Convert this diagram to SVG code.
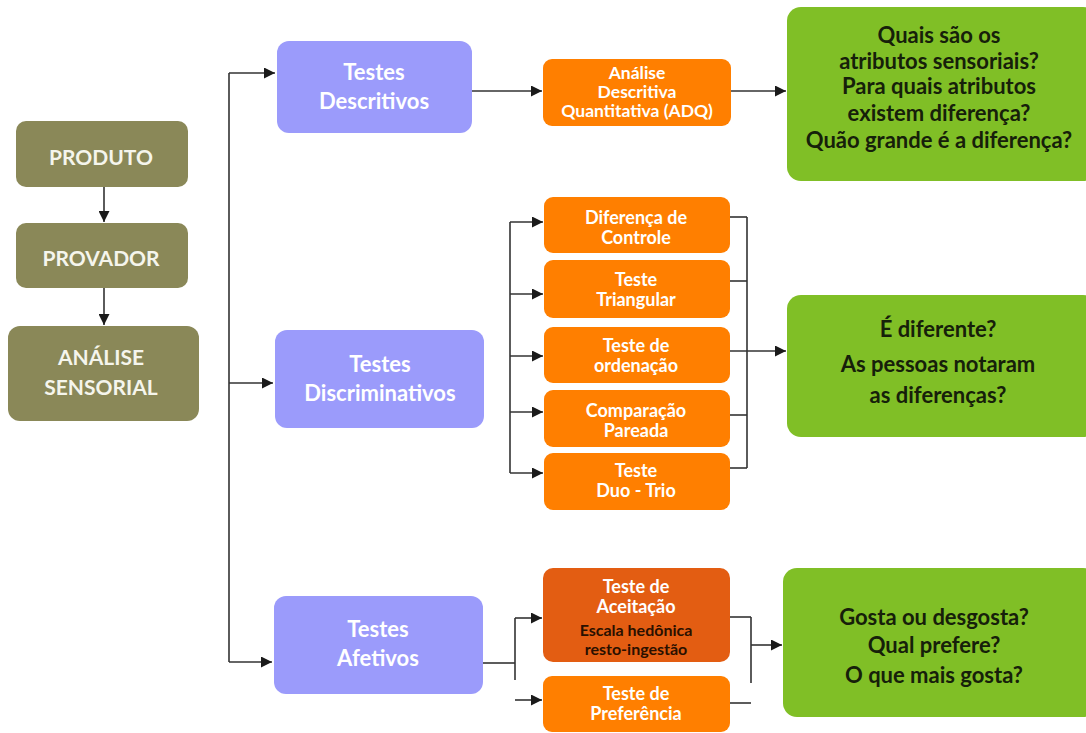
<svg xmlns="http://www.w3.org/2000/svg" width="1086" height="733" viewBox="0 0 1086 733">
<defs>
<marker id="ah" viewBox="0 0 10 10" refX="10" refY="5" markerWidth="11" markerHeight="11" markerUnits="userSpaceOnUse" orient="auto">
<path d="M0,0 L10,5 L0,10 z" fill="#1a1a1a"/>
</marker>
</defs>
<style>
text{font-family:Lato,"Open Sans","Liberation Sans",sans-serif;font-weight:bold;text-anchor:middle}
.olive{fill:#8a8858}
.olive-t{fill:#f5f5ec;font-size:21px}
.purple{fill:#9b9bfb}
.purple-t{fill:#ffffff;font-size:22px}
.orange{fill:#ff7f00}
.dorange{fill:#e35d12}
.orange-t{fill:#ffffff;font-size:18px}
.adq-t{fill:#ffffff;font-size:17.5px}
.sub-t{fill:#2a1000;font-size:16px}
.green{fill:#80bf26}
.green-t{fill:#16200a;font-size:22px}
.ln{fill:none;stroke:#333333;stroke-width:1.6}
.ar{fill:none;stroke:#333333;stroke-width:1.6;marker-end:url(#ah)}
</style>
<rect width="1086" height="733" fill="#ffffff"/>

<g id="produto"><rect class="olive" x="16" y="121" width="172" height="66" rx="10"/><text class="olive-t" x="101" y="164.5">PRODUTO</text></g>
<g id="provador"><rect class="olive" x="16" y="223" width="172" height="65" rx="10"/><text class="olive-t" x="101" y="265.5">PROVADOR</text></g>
<g id="analise"><rect class="olive" x="8" y="326" width="191" height="95" rx="12"/><text class="olive-t" x="101" y="364.5">ANÁLISE</text><text class="olive-t" x="101" y="394.5">SENSORIAL</text></g>

<g id="descritivos"><rect class="purple" x="277" y="41" width="195" height="92" rx="12"/><text class="purple-t" x="374" y="80">Testes</text><text class="purple-t" x="374" y="109">Descritivos</text></g>
<g id="discriminativos"><rect class="purple" x="275" y="330" width="209" height="98" rx="12"/><text class="purple-t" x="380" y="372">Testes</text><text class="purple-t" x="380" y="401">Discriminativos</text></g>
<g id="afetivos"><rect class="purple" x="274" y="596" width="209" height="98" rx="12"/><text class="purple-t" x="378" y="637">Testes</text><text class="purple-t" x="378" y="666">Afetivos</text></g>

<g id="adq"><rect class="orange" x="543" y="59" width="188" height="67" rx="9"/><text class="adq-t" x="637" y="79">Análise</text><text class="adq-t" x="637" y="98">Descritiva</text><text class="adq-t" x="637" y="117">Quantitativa (ADQ)</text></g>

<g id="dif-controle"><rect class="orange" x="544" y="197" width="186" height="56" rx="9"/><text class="orange-t" x="636" y="223.5">Diferença de</text><text class="orange-t" x="636" y="243.5">Controle</text></g>
<g id="triangular"><rect class="orange" x="544" y="260" width="186" height="58" rx="9"/><text class="orange-t" x="636" y="285.5">Teste</text><text class="orange-t" x="636" y="305.5">Triangular</text></g>
<g id="ordenacao"><rect class="orange" x="544" y="327" width="186" height="56" rx="9"/><text class="orange-t" x="636" y="351.5">Teste de</text><text class="orange-t" x="636" y="371.5">ordenação</text></g>
<g id="pareada"><rect class="orange" x="544" y="390" width="186" height="57" rx="9"/><text class="orange-t" x="636" y="417">Comparação</text><text class="orange-t" x="636" y="437">Pareada</text></g>
<g id="duotrio"><rect class="orange" x="544" y="453" width="186" height="57" rx="9"/><text class="orange-t" x="636" y="477">Teste</text><text class="orange-t" x="636" y="497">Duo - Trio</text></g>

<g id="aceitacao"><rect class="dorange" x="543" y="568" width="187" height="94" rx="10"/><text class="orange-t" x="636" y="593">Teste de</text><text class="orange-t" x="636" y="613">Aceitação</text><text class="sub-t" x="636" y="636">Escala hedônica</text><text class="sub-t" x="636" y="655">resto-ingestão</text></g>
<g id="preferencia"><rect class="orange" x="543" y="676" width="187" height="56" rx="9"/><text class="orange-t" x="636" y="700">Teste de</text><text class="orange-t" x="636" y="720">Preferência</text></g>

<g id="q-descritivos"><rect class="green" x="787" y="7" width="310" height="174" rx="14"/><text class="green-t" x="939" y="43">Quais são os</text><text class="green-t" x="939" y="69">atributos sensoriais?</text><text class="green-t" x="939" y="94">Para quais atributos</text><text class="green-t" x="939" y="121">existem diferença?</text><text class="green-t" x="939" y="148">Quão grande é a diferença?</text></g>
<g id="q-discriminativos"><rect class="green" x="787" y="295" width="310" height="142" rx="14"/><text class="green-t" x="938" y="337">É diferente?</text><text class="green-t" x="938" y="372">As pessoas notaram</text><text class="green-t" x="938" y="403">as diferenças?</text></g>
<g id="q-afetivos"><rect class="green" x="783" y="568" width="314" height="149" rx="14"/><text class="green-t" x="934" y="625">Gosta ou desgosta?</text><text class="green-t" x="934" y="653">Qual prefere?</text><text class="green-t" x="934" y="683">O que mais gosta?</text></g>

<g id="connectors">
<line class="ar" x1="104" y1="187" x2="104" y2="222"/>
<line class="ar" x1="104" y1="288" x2="104" y2="325"/>
<polyline class="ln" points="229,73 229,662"/>
<line class="ar" x1="229" y1="73" x2="275" y2="73"/>
<line class="ar" x1="229" y1="383" x2="273" y2="383"/>
<line class="ar" x1="229" y1="662" x2="272" y2="662"/>
<line class="ar" x1="472" y1="91" x2="542" y2="91"/>
<line class="ar" x1="731" y1="91" x2="786" y2="91"/>
<line class="ln" x1="510" y1="222" x2="510" y2="473"/>
<line class="ar" x1="510" y1="222" x2="543" y2="222"/>
<line class="ar" x1="510" y1="294" x2="543" y2="294"/>
<line class="ar" x1="510" y1="356" x2="543" y2="356"/>
<line class="ar" x1="510" y1="412" x2="543" y2="412"/>
<line class="ar" x1="510" y1="473" x2="543" y2="473"/>
<line class="ln" x1="747" y1="217" x2="747" y2="468"/>
<line class="ln" x1="730" y1="217" x2="747" y2="217"/>
<line class="ln" x1="730" y1="281" x2="747" y2="281"/>
<line class="ln" x1="730" y1="415" x2="747" y2="415"/>
<line class="ln" x1="730" y1="468" x2="747" y2="468"/>
<line class="ar" x1="730" y1="351" x2="786" y2="351"/>
<line class="ln" x1="483" y1="663" x2="515" y2="663"/>
<line class="ln" x1="515" y1="618" x2="515" y2="680"/>
<line class="ar" x1="515" y1="618" x2="542" y2="618"/>
<line class="ar" x1="515" y1="700" x2="542" y2="700"/>
<line class="ln" x1="730" y1="617" x2="751" y2="617"/>
<line class="ln" x1="751" y1="617" x2="751" y2="683"/>
<line class="ar" x1="751" y1="645" x2="782" y2="645"/>
<line class="ln" x1="730" y1="703" x2="751" y2="703"/>
</g>
</svg>
